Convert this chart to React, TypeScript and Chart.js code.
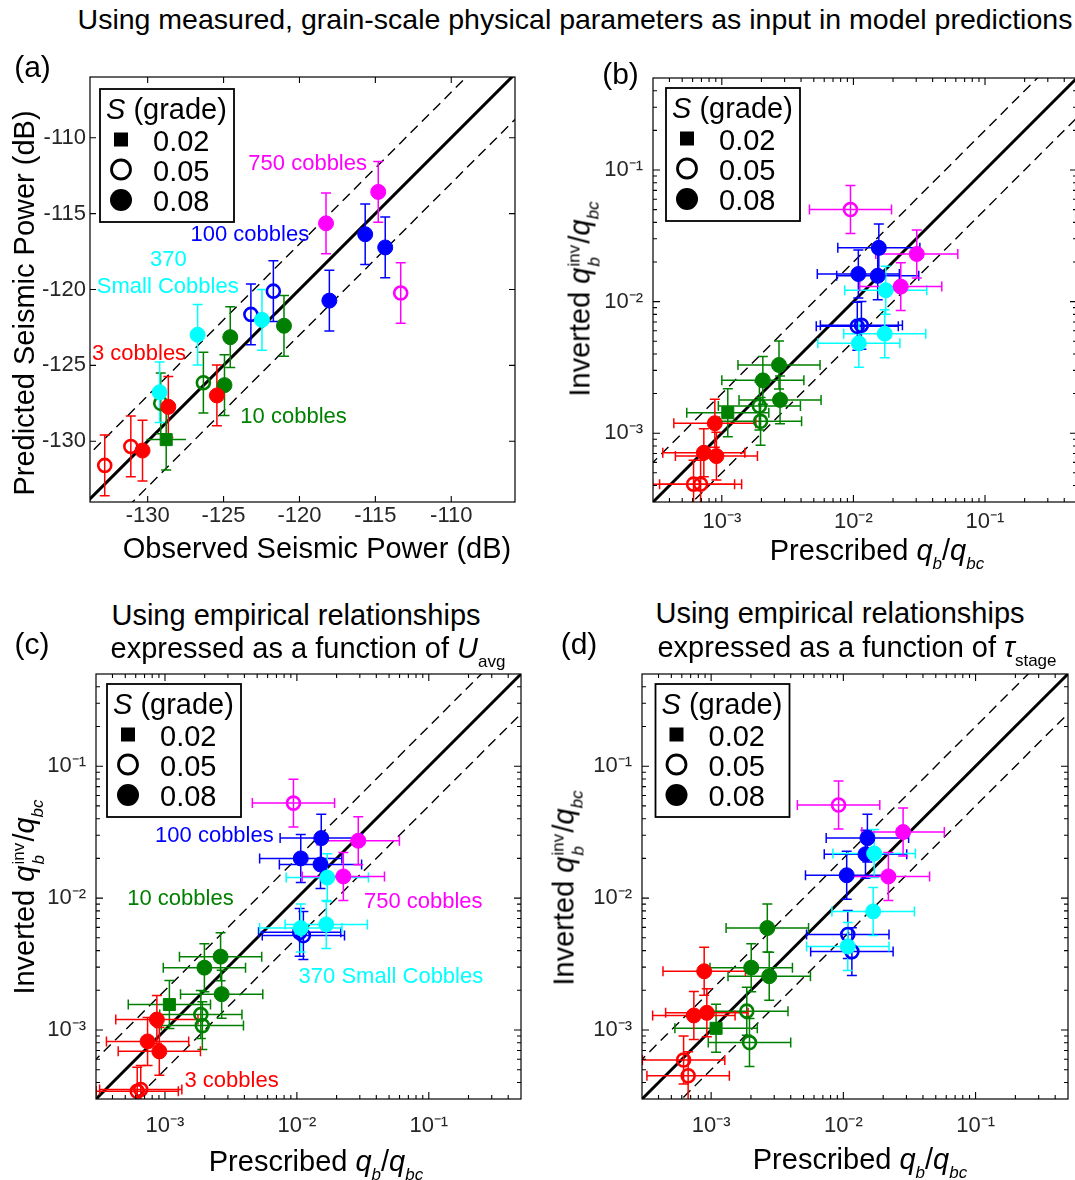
import React, { useEffect, useRef } from 'react';
import { Chart, registerables } from 'chart.js';

Chart.register(...registerables);

const FONT = '"Liberation Sans", Arial, sans-serif';
const TICK_COLOR = '#262626';

// ---------- categories ----------
const COLORS = ['#ff0000', '#008000', '#00ffff', '#0000ff', '#ff00ff'];
const GROUP_NAMES = ['3 cobbles', '10 cobbles', '370 Small Cobbles', '100 cobbles', '750 cobbles'];
const GRADE_LABELS = ['0.02', '0.05', '0.08'];
// per point: cobble group and grade (0 = 0.02 square, 1 = 0.05 open circle, 2 = 0.08 filled circle)
const GROUP = [0, 0, 0, 0, 0, 1, 1, 1, 1, 1, 1, 2, 2, 2, 3, 3, 3, 3, 3, 4, 4, 4];
const GRADE = [1, 1, 2, 2, 2, 0, 1, 1, 2, 2, 2, 2, 2, 2, 1, 1, 2, 2, 2, 1, 2, 2];
const DRAW_ORDER = [1, 0, 3, 2, 4];

// ---------- (a) seismic power (dB) ----------
const A_OBSERVED = [-132.83, -131.11, -130.34, -128.64, -125.44, -128.78, -129.14, -126.33, -124.94, -124.56, -121.02, -129.21, -126.71, -122.47, -123.2, -121.72, -118.03, -115.67, -114.35, -113.33, -118.25, -114.81];
const A_PREDICTED = [-131.59, -130.34, -130.61, -127.73, -126.98, -129.89, -127.5, -126.14, -126.3, -123.14, -122.39, -126.77, -122.98, -122.0, -121.64, -120.11, -120.73, -116.36, -117.23, -120.23, -115.64, -113.57];
const A_PRED_ERR = [2, 2, 2, 2, 2, 2, 2, 2, 2, 2, 2, 2, 2, 2, 2, 2, 2, 2, 2, 2, 2, 2];
const A_OBS_ERR = [0, 0, 0, 0, 0, 1.3, 0, 0, 0, 0, 0, 0, 0, 0, 0, 0, 0, 0, 0, 0, 0, 0];
const A_TICKS = [-130, -125, -120, -115, -110];

// ---------- (b) measured grain-scale parameters ----------
const B_PRESCRIBED = [6.1e-4, 6.9e-4, 7.3e-4, 9.1e-4, 8.85e-4, 1.11e-3, 1.93e-3, 1.97e-3, 2.05e-3, 2.72e-3, 2.77e-3, 1.1e-2, 1.73e-2, 1.76e-2, 1.07e-2, 1.15e-2, 1.09e-2, 1.53e-2, 1.56e-2, 9.5e-3, 3.03e-2, 2.29e-2];
const B_INVERTED = [4.1e-4, 4.1e-4, 7.1e-4, 6.7e-4, 1.19e-3, 1.43e-3, 1.61e-3, 1.23e-3, 2.52e-3, 3.3e-3, 1.79e-3, 4.82e-3, 5.7e-3, 1.22e-2, 6.5e-3, 6.6e-3, 1.62e-2, 1.57e-2, 2.56e-2, 5.01e-2, 2.3e-2, 1.3e-2];

// ---------- (c) empirical, function of U_avg ----------
const C_PRESCRIBED = [6.16e-4, 6.55e-4, 7.38e-4, 8.68e-4, 9.06e-4, 1.08e-3, 1.87e-3, 1.92e-3, 1.99e-3, 2.64e-3, 2.69e-3, 1.07e-2, 1.67e-2, 1.7e-2, 1.05e-2, 1.12e-2, 1.07e-2, 1.51e-2, 1.53e-2, 9.42e-3, 2.92e-2, 2.25e-2];
const C_INVERTED = [3.43e-4, 3.54e-4, 8.19e-4, 1.2e-3, 6.89e-4, 1.56e-3, 1.31e-3, 1.08e-3, 2.97e-3, 3.6e-3, 1.87e-3, 5.93e-3, 6.32e-3, 1.43e-2, 5.5e-3, 5.2e-3, 2.0e-2, 1.8e-2, 2.85e-2, 5.25e-2, 2.72e-2, 1.46e-2];

// ---------- (d) empirical, function of tau_stage ----------
const D_PRESCRIBED = [6.19e-4, 6.7e-4, 7.4e-4, 9.28e-4, 8.86e-4, 1.09e-3, 1.86e-3, 1.95e-3, 2.01e-3, 2.66e-3, 2.75e-3, 1.08e-2, 1.68e-2, 1.71e-2, 1.08e-2, 1.16e-2, 1.06e-2, 1.47e-2, 1.52e-2, 9.2e-3, 2.83e-2, 2.19e-2];
const D_INVERTED = [5.93e-4, 4.5e-4, 1.29e-3, 1.35e-3, 2.79e-3, 1.03e-3, 1.39e-3, 8.03e-4, 2.97e-3, 5.93e-3, 2.56e-3, 4.3e-3, 7.93e-3, 2.18e-2, 5.3e-3, 3.93e-3, 1.49e-2, 2.15e-2, 2.85e-2, 5.08e-2, 3.17e-2, 1.46e-2];

const LOG_TICKS = [1e-3, 1e-2, 1e-1];
const LOG_X_ERR_FACTOR = 2.05;
const LOG_Y_ERR_FACTOR = 1.52;

const A_NOTES = [
  { text: '750 cobbles', group: 4, x: -119.46, y: -111.7 },
  { text: '100 cobbles', group: 3, x: -123.27, y: -116.41 },
  { text: '370', group: 2, x: -128.64, y: -118.02 },
  { text: 'Small Cobbles', group: 2, x: -128.68, y: -119.84 },
  { text: '3 cobbles', group: 0, x: -130.57, y: -124.25 },
  { text: '10 cobbles', group: 1, x: -120.39, y: -128.41 },
];
const C_NOTES = [
  { text: '100 cobbles', group: 3, x: 2.37e-3, y: 2.94e-2 },
  { text: '10 cobbles', group: 1, x: 1.31e-3, y: 9.8e-3 },
  { text: '750 cobbles', group: 4, x: 9.08e-2, y: 9.3e-3 },
  { text: '370 Small Cobbles', group: 2, x: 5.16e-2, y: 2.53e-3 },
  { text: '3 cobbles', group: 0, x: 3.2e-3, y: 4.08e-4 },
];

type Note = { text: string; group: number; x: number; y: number };
type PanelCfg = {
  key: string;
  area: { l: number; t: number; r: number; b: number };
  log: boolean;
  xMin: number;
  xMax: number;
  yMin: number;
  yMax: number;
  ticks: number[];
  xs: number[];
  ys: number[];
  xErr?: number[];
  yErr?: number[];
  notes: Note[];
  legendOff: [number, number];
  xTickPad: number;
  yTickPad: number;
};

const PANELS: PanelCfg[] = [
  {
    key: 'a', area: { l: 90, t: 77, r: 515, b: 502 }, log: false,
    xMin: -133.8, xMax: -105.8, yMin: -134, yMax: -106, ticks: A_TICKS,
    xs: A_OBSERVED, ys: A_PREDICTED, xErr: A_OBS_ERR, yErr: A_PRED_ERR,
    notes: A_NOTES, legendOff: [10, 12], xTickPad: 1, yTickPad: 4,
  },
  {
    key: 'b', area: { l: 653, t: 78, r: 1077, b: 502 }, log: true,
    xMin: 3e-4, xMax: 0.5, yMin: 3e-4, yMax: 0.5, ticks: LOG_TICKS,
    xs: B_PRESCRIBED, ys: B_INVERTED, notes: [], legendOff: [13, 10], xTickPad: 7, yTickPad: 10,
  },
  {
    key: 'c', area: { l: 96, t: 674, r: 521, b: 1099 }, log: true,
    xMin: 3e-4, xMax: 0.5, yMin: 3e-4, yMax: 0.5, ticks: LOG_TICKS,
    xs: C_PRESCRIBED, ys: C_INVERTED, notes: C_NOTES, legendOff: [11, 10], xTickPad: 14, yTickPad: 10,
  },
  {
    key: 'd', area: { l: 642, t: 674, r: 1068, b: 1099 }, log: true,
    xMin: 3e-4, xMax: 0.5, yMin: 3e-4, yMax: 0.5, ticks: LOG_TICKS,
    xs: D_PRESCRIBED, ys: D_INVERTED, notes: [], legendOff: [13.5, 10], xTickPad: 14, yTickPad: 10,
  },
];

const SUP: Record<string, string> = { '-': '\u207B', '0': '\u2070', '1': '\u00B9', '2': '\u00B2', '3': '\u00B3', '4': '\u2074', '5': '\u2075', '6': '\u2076', '7': '\u2077', '8': '\u2078', '9': '\u2079' };
const logLabel = (v: number) => '10' + String(Math.round(Math.log10(v))).split('').map((c) => SUP[c] || c).join('');

function makeDecor(p: PanelCfg, order: number[]) {
  return {
    id: 'decor_' + p.key,
    beforeDatasetsDraw(chart: any) {
      const { ctx, chartArea: ca, scales } = chart;
      const X = (v: number) => scales.x.getPixelForValue(v);
      const Y = (v: number) => scales.y.getPixelForValue(v);
      ctx.save();
      ctx.beginPath();
      ctx.rect(ca.left, ca.top, ca.right - ca.left, ca.bottom - ca.top);
      ctx.clip();
      // reference lines: 1:1 and factor-of-2 (±3 dB)
      const refs = [
        { k: 0, dash: [] as number[], lw: 3 },
        { k: 1, dash: [10, 6], lw: 1.4 },
        { k: -1, dash: [10, 6], lw: 1.4 },
      ];
      ctx.strokeStyle = '#000';
      for (const r of refs) {
        ctx.setLineDash(r.dash);
        ctx.lineWidth = r.lw;
        let x0: number, x1: number, y0: number, y1: number;
        if (p.log) {
          const f = Math.pow(2, r.k);
          x0 = p.xMin / 100; x1 = p.xMax * 100; y0 = x0 * f; y1 = x1 * f;
        } else {
          x0 = p.xMin - 40; x1 = p.xMax + 40; y0 = x0 + 3 * r.k; y1 = x1 + 3 * r.k;
        }
        ctx.beginPath();
        ctx.moveTo(X(x0), Y(y0));
        ctx.lineTo(X(x1), Y(y1));
        ctx.stroke();
      }
      ctx.setLineDash([]);
      // error bars
      const cap = 5;
      ctx.lineWidth = 1.5;
      for (const i of order) {
        ctx.strokeStyle = COLORS[GROUP[i]];
        const x = p.xs[i], y = p.ys[i];
        let xl: number, xh: number, yl: number, yh: number;
        if (p.log) {
          xl = x / LOG_X_ERR_FACTOR; xh = x * LOG_X_ERR_FACTOR;
          yl = y / LOG_Y_ERR_FACTOR; yh = y * LOG_Y_ERR_FACTOR;
        } else {
          const ex = p.xErr ? p.xErr[i] : 0;
          const ey = p.yErr ? p.yErr[i] : 0;
          xl = x - ex; xh = x + ex; yl = y - ey; yh = y + ey;
        }
        const px = X(x), py = Y(y);
        ctx.beginPath();
        ctx.moveTo(px, Y(yl)); ctx.lineTo(px, Y(yh));
        ctx.moveTo(px - cap, Y(yl)); ctx.lineTo(px + cap, Y(yl));
        ctx.moveTo(px - cap, Y(yh)); ctx.lineTo(px + cap, Y(yh));
        if (xh > xl) {
          ctx.moveTo(X(xl), py); ctx.lineTo(X(xh), py);
          if (p.log) {
            ctx.moveTo(X(xl), py - cap); ctx.lineTo(X(xl), py + cap);
            ctx.moveTo(X(xh), py - cap); ctx.lineTo(X(xh), py + cap);
          }
        }
        ctx.stroke();
      }
      ctx.restore();
    },
    afterDatasetsDraw(chart: any) {
      const { ctx, chartArea: ca, scales } = chart;
      const X = (v: number) => scales.x.getPixelForValue(v);
      const Y = (v: number) => scales.y.getPixelForValue(v);
      ctx.save();
      // annotations
      ctx.font = `22px ${FONT}`;
      ctx.textAlign = 'center';
      ctx.textBaseline = 'middle';
      for (const n of p.notes) {
        ctx.fillStyle = COLORS[n.group];
        ctx.fillText(n.text, X(n.x), Y(n.y));
      }
      // frame
      ctx.strokeStyle = '#000';
      ctx.lineWidth = 1.2;
      ctx.strokeRect(ca.left, ca.top, ca.right - ca.left, ca.bottom - ca.top);
      // inward tick marks on all four sides
      const marks: { v: number; len: number }[] = [];
      if (p.log) {
        for (let d = -5; d <= 1; d++) {
          for (let m = 1; m <= 9; m++) {
            const v = m * Math.pow(10, d);
            if (v > p.xMin * 1.0001 && v < p.xMax * 0.9999) marks.push({ v, len: m === 1 ? 7 : 4 });
          }
        }
      } else {
        for (const v of p.ticks) marks.push({ v, len: 6 });
      }
      ctx.lineWidth = 1.1;
      ctx.beginPath();
      for (const mk of marks) {
        const px = X(mk.v);
        if (px > ca.left && px < ca.right) {
          ctx.moveTo(px, ca.bottom); ctx.lineTo(px, ca.bottom - mk.len);
          ctx.moveTo(px, ca.top); ctx.lineTo(px, ca.top + mk.len);
        }
        const py = Y(mk.v);
        if (py > ca.top && py < ca.bottom) {
          ctx.moveTo(ca.left, py); ctx.lineTo(ca.left + mk.len, py);
          ctx.moveTo(ca.right, py); ctx.lineTo(ca.right - mk.len, py);
        }
      }
      ctx.stroke();
      // legend box
      const lx = ca.left + p.legendOff[0];
      const ly = ca.top + p.legendOff[1];
      const lw = 134, lh = 133;
      ctx.fillStyle = '#fff';
      ctx.fillRect(lx, ly, lw, lh);
      ctx.lineWidth = 1.8;
      ctx.strokeStyle = '#000';
      ctx.strokeRect(lx, ly, lw, lh);
      ctx.fillStyle = '#000';
      ctx.textAlign = 'left';
      ctx.textBaseline = 'alphabetic';
      ctx.font = `italic 29px ${FONT}`;
      ctx.fillText('S', lx + 6, ly + 30);
      const sw = ctx.measureText('S').width;
      ctx.font = `29px ${FONT}`;
      ctx.fillText(' (grade)', lx + 6 + sw, ly + 30);
      const rowBase = [61.5, 91.5, 121.5];
      const rowMid = [50.5, 80.5, 111];
      const mx = lx + 21;
      ctx.font = `29px ${FONT}`;
      for (let g = 0; g < 3; g++) {
        const my = ly + rowMid[g];
        ctx.fillStyle = '#000';
        ctx.strokeStyle = '#000';
        if (g === 0) {
          ctx.fillRect(mx - 7, my - 7, 14, 14);
        } else if (g === 1) {
          ctx.lineWidth = 2.8;
          ctx.beginPath(); ctx.arc(mx, my, 9.5, 0, Math.PI * 2); ctx.stroke();
        } else {
          ctx.beginPath(); ctx.arc(mx, my, 11, 0, Math.PI * 2); ctx.fill();
        }
        ctx.fillText(GRADE_LABELS[g], lx + 53, ly + rowBase[g]);
      }
      ctx.restore();
    },
  };
}

const WY = 80, HX = 50, PT = 20, PR = 20;

function Panel({ p }: { p: PanelCfg }) {
  const ref = useRef<HTMLCanvasElement | null>(null);
  const w = WY + (p.area.r - p.area.l) + PR;
  const h = PT + (p.area.b - p.area.t) + HX;
  useEffect(() => {
    if (!ref.current) return;
    const order: number[] = [];
    for (const g of DRAW_ORDER) GROUP.forEach((gg, i) => { if (gg === g) order.push(i); });
    const pts = order.map((i) => ({ x: p.xs[i], y: p.ys[i] }));
    const fmt = p.log ? (v: any) => logLabel(Number(v)) : (v: any) => String(v);
    const tickFont = { family: FONT, size: 22 };
    const chart = new Chart(ref.current, {
      type: 'scatter',
      data: {
        datasets: [
          {
            label: 'points',
            data: pts,
            pointStyle: order.map((i) => (GRADE[i] === 0 ? 'rect' : 'circle')) as any,
            pointRadius: order.map((i) => [8.5, 6.5, 7.5][GRADE[i]]),
            pointBackgroundColor: order.map((i) => (GRADE[i] === 1 ? 'rgba(0,0,0,0)' : COLORS[GROUP[i]])),
            pointBorderColor: order.map((i) => COLORS[GROUP[i]]),
            pointBorderWidth: order.map((i) => [1, 2.6, 1][GRADE[i]]),
            showLine: false,
          },
        ],
      },
      options: {
        animation: false,
        responsive: false,
        maintainAspectRatio: false,
        events: [],
        layout: { padding: { top: PT, right: PR, left: 0, bottom: 0 } },
        plugins: { legend: { display: false }, tooltip: { enabled: false } },
        scales: {
          x: {
            type: p.log ? 'logarithmic' : 'linear',
            position: 'bottom',
            min: p.xMin,
            max: p.xMax,
            grid: { display: false, drawTicks: false },
            border: { display: false },
            ticks: { autoSkip: false, maxRotation: 0, minRotation: 0, padding: p.xTickPad, color: TICK_COLOR, font: tickFont, callback: fmt },
            afterBuildTicks: (s: any) => { s.ticks = p.ticks.map((v) => ({ value: v })); },
            afterFit: (s: any) => { s.height = HX; s.paddingLeft = 0; s.paddingRight = 0; s.paddingTop = 0; s.paddingBottom = 0; },
          } as any,
          y: {
            type: p.log ? 'logarithmic' : 'linear',
            position: 'left',
            min: p.yMin,
            max: p.yMax,
            grid: { display: false, drawTicks: false },
            border: { display: false },
            ticks: { autoSkip: false, padding: p.yTickPad, color: TICK_COLOR, font: tickFont, callback: fmt },
            afterBuildTicks: (s: any) => { s.ticks = p.ticks.map((v) => ({ value: v })); },
            afterFit: (s: any) => { s.width = WY; s.paddingLeft = 0; s.paddingRight = 0; s.paddingTop = 0; s.paddingBottom = 0; },
          } as any,
        },
      },
      plugins: [makeDecor(p, order)],
    });
    return () => chart.destroy();
  }, []);
  return (
    <canvas
      ref={ref}
      width={w}
      height={h}
      style={{ position: 'absolute', left: p.area.l - WY, top: p.area.t - PT, width: w, height: h }}
    />
  );
}

function Txt({ cx, cy, size, rotate, children }: { cx: number; cy: number; size: number; rotate?: boolean; children: React.ReactNode }) {
  return (
    <div
      style={{
        position: 'absolute',
        left: cx,
        top: cy,
        transform: `translate(-50%, -50%)${rotate ? ' rotate(-90deg)' : ''}`,
        fontSize: size,
        lineHeight: 1,
        whiteSpace: 'nowrap',
        fontFamily: FONT,
        color: '#000',
      }}
    >
      {children}
    </div>
  );
}

const Sub = ({ children, italic }: { children: React.ReactNode; italic?: boolean }) => (
  <span style={{ fontSize: 17, position: 'relative', top: 9, fontStyle: italic ? 'italic' : 'normal' }}>{children}</span>
);

const QRatio = () => (
  <>
    <i>q</i>
    <Sub italic>b</Sub>/<i>q</i>
    <Sub italic>bc</Sub>
  </>
);

const InvLabel = () => (
  <>
    Inverted <i>q</i>
    <span style={{ position: 'relative', display: 'inline-block', width: 24, height: 0 }}>
      <span style={{ position: 'absolute', left: 1, top: -24, fontSize: 17, lineHeight: 1 }}>inv</span>
      <span style={{ position: 'absolute', left: 1, top: -4, fontSize: 17, lineHeight: 1, fontStyle: 'italic' }}>b</span>
    </span>
    /<i>q</i>
    <Sub italic>bc</Sub>
  </>
);

export default function App() {
  return (
    <div
      style={{
        position: 'absolute',
        left: 0,
        top: 0,
        width: 1075,
        height: 1180,
        overflow: 'hidden',
        background: '#fff',
        fontFamily: FONT,
      }}
    >
      {PANELS.map((p) => (
        <Panel key={p.key} p={p} />
      ))}
      <Txt cx={575} cy={19} size={28.5}>Using measured, grain-scale physical parameters as input in model predictions</Txt>

      <Txt cx={32.5} cy={66.5} size={30}>(a)</Txt>
      <Txt cx={620.5} cy={74} size={30}>(b)</Txt>
      <Txt cx={32} cy={643.5} size={30}>(c)</Txt>
      <Txt cx={579} cy={643.5} size={30}>(d)</Txt>

      <Txt cx={317} cy={548} size={29}>Observed Seismic Power (dB)</Txt>
      <Txt cx={24} cy={303} size={29} rotate>Predicted Seismic Power (dB)</Txt>

      <Txt cx={877} cy={550} size={29}>Prescribed <QRatio /></Txt>
      <Txt cx={580} cy={299} size={29} rotate><InvLabel /></Txt>

      <Txt cx={296} cy={615} size={29}>Using empirical relationships</Txt>
      <Txt cx={308} cy={648} size={29}>expressed as a function of <i>U</i><Sub>avg</Sub></Txt>
      <Txt cx={316} cy={1161} size={29}>Prescribed <QRatio /></Txt>
      <Txt cx={24} cy={897} size={29} rotate><InvLabel /></Txt>

      <Txt cx={840} cy={613} size={29}>Using empirical relationships</Txt>
      <Txt cx={857} cy={647} size={29}>expressed as a function of <i>{'\u03C4'}</i><Sub>stage</Sub></Txt>
      <Txt cx={860} cy={1159} size={29}>Prescribed <QRatio /></Txt>
      <Txt cx={564} cy={888} size={29} rotate><InvLabel /></Txt>
    </div>
  );
}
